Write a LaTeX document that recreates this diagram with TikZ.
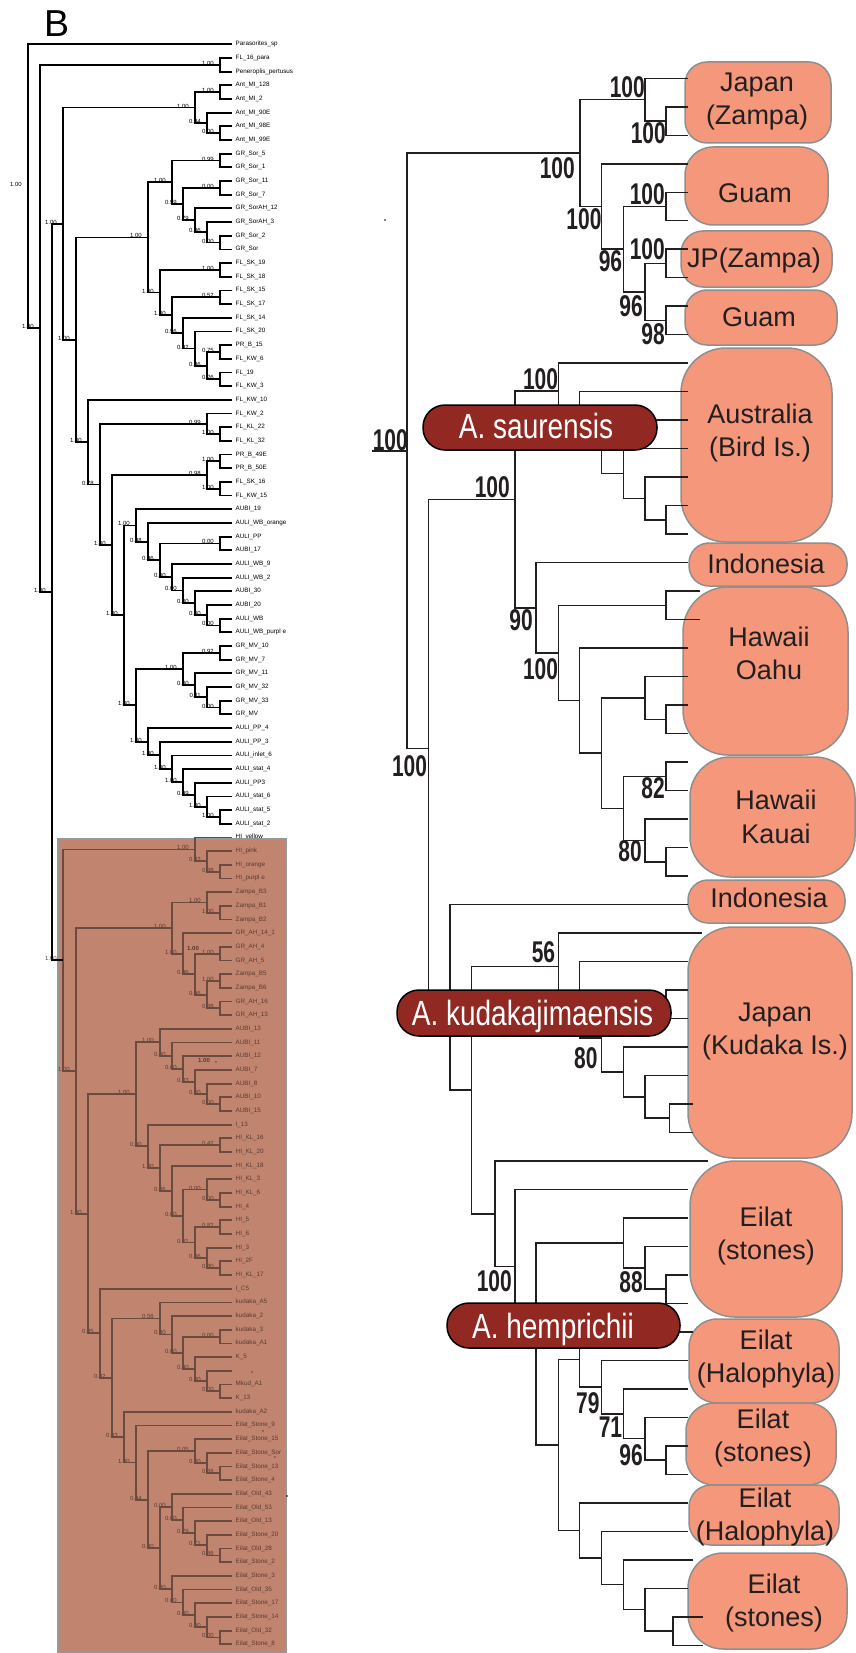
\documentclass[tikz,border=0pt]{standalone}
\usepackage{fontspec}
\setmainfont{Liberation Sans}
\usepackage{graphicx}
\usetikzlibrary{calc}

\definecolor{treeline}{HTML}{231F20}
\definecolor{boxfill}{HTML}{C1846F}
\definecolor{boxedge}{HTML}{979797}
\definecolor{boxline}{HTML}{6B4A3F}
\definecolor{boxtext}{HTML}{5A3B32}
\definecolor{regionfill}{HTML}{F4977A}
\definecolor{regionedge}{HTML}{8F8F8F}
\definecolor{speciesfill}{HTML}{922822}

\tikzset{
  lbranch/.style={line width=1.8pt, draw=black},
  lsup/.style={anchor=base east, inner sep=0pt, xshift=-6pt, yshift=-0.5pt, font=\fontsize{6}{7}\selectfont},
  lleaf/.style={anchor=base west, inner sep=0pt, xshift=3.5pt, yshift=-1.5pt, font=\fontsize{6.3}{7}\selectfont},
  rbranch/.style={line width=1.5pt, draw=treeline},
  rsup/.style={inner sep=0pt, text=treeline, font=\fontsize{30}{30}\selectfont\bfseries},
  region/.style={draw=regionedge, line width=1.5pt, fill=regionfill},
  regtext/.style={anchor=base, inner sep=0pt, text=treeline, font=\fontsize{27}{33}\selectfont},
  species/.style={draw=black, line width=1.5pt, fill=speciesfill, rounded corners=22pt},
  spectext/.style={anchor=base, inner sep=0pt, text=white, font=\fontsize{35}{35}\selectfont},
}

% clade: name, x, first child, last child, support
\newcommand\lclade[5]{%
  \path let \p1=($(#3)!0.5!(#4)$) in (#2pt,\y1) coordinate (#1);
  \draw[lbranch] (#3) -| (#1) |- (#4);
  \node[lsup] (#1-s) at (#1) {#5};
}
\newcommand\rclade[4]{%
  \path let \p1=($(#3)!0.5!(#4)$) in (#2pt,\y1) coordinate (#1);
  \draw[rbranch] (#3) -| (#1) |- (#4);
}
\newcommand\rlabel[4]{%
  \node[rsup, anchor=#2] (#1-s) at ($(#1)+(#3)$) {\scalebox{0.7}[1]{#4}};
}

\begin{document}
\begin{tikzpicture}[x=1pt, y=-1pt]
\useasboundingbox (0,0) rectangle (855,1653);

\node[anchor=base west, inner sep=0pt, font=\fontsize{37.5}{37.5}\selectfont] (panel) at (44,37) {B};

% left tree, leaves
\foreach \t [count=\i] in {Parasorites\_sp, FL\_16\_para, Peneroplis\_pertusus, Ant\_MI\_128, Ant\_MI\_2,
  Ant\_MI\_90E, Ant\_MI\_98E, Ant\_MI\_99E, GR\_Sor\_5, GR\_Sor\_1, GR\_Sor\_11, GR\_Sor\_7, GR\_SorAH\_12,
  GR\_SorAH\_3, GR\_Sor\_2, GR\_Sor, FL\_SK\_19, FL\_SK\_18, FL\_SK\_15, FL\_SK\_17, FL\_SK\_14, FL\_SK\_20,
  PR\_B\_15, FL\_KW\_6, FL\_19, FL\_KW\_3, FL\_KW\_10, FL\_KW\_2, FL\_KL\_22, FL\_KL\_32, PR\_B\_49E, PR\_B\_50E,
  FL\_SK\_16, FL\_KW\_15, AUBI\_19, AULI\_WB\_orange, AULI\_PP, AUBI\_17, AULI\_WB\_9, AULI\_WB\_2, AUBI\_30,
  AUBI\_20, AULI\_WB, AULI\_WB\_purpl e, GR\_MV\_10, GR\_MV\_7, GR\_MV\_11, GR\_MV\_32, GR\_MV\_33, GR\_MV,
  AULI\_PP\_4, AULI\_PP\_3, AULI\_inlet\_6, AULI\_stat\_4, AULI\_PP3, AULI\_stat\_6, AULI\_stat\_5, AULI\_stat\_2,
  HI\_yellow}
{
  \coordinate (l\i) at (232,{44.3+(\i-1)*13.675});
  \node[lleaf] (l\i-t) at (l\i) {\t};
}

\lclade{fp}{220}{l2}{l3}{1.00}
\lclade{ant1}{220}{l4}{l5}{1.00}
\lclade{ant3}{220}{l7}{l8}{0.00}
\lclade{ant2}{207}{l6}{ant3}{0.94}
\lclade{ant}{195}{ant1}{ant2}{1.00}
\lclade{sor1}{220}{l9}{l10}{0.99}
\lclade{sor3}{220}{l11}{l12}{0.00}
\lclade{sor6}{220}{l15}{l16}{0.00}
\lclade{sor5}{207}{l14}{sor6}{0.86}
\lclade{sor4}{195}{l13}{sor5}{0.79}
\lclade{sor2}{183}{sor3}{sor4}{0.99}
\lclade{sor}{172}{sor1}{sor2}{1.00}
\lclade{sk1}{220}{l17}{l18}{1.00}
\lclade{sk3}{220}{l19}{l20}{0.52}
\lclade{sk7}{220}{l23}{l24}{0.75}
\lclade{sk8}{220}{l25}{l26}{0.26}
\lclade{sk6}{207}{sk7}{sk8}{0.96}
\lclade{sk5}{195}{l22}{sk6}{0.92}
\lclade{sk4}{183}{l21}{sk5}{0.96}
\lclade{sk2}{172}{sk3}{sk4}{1.00}
\lclade{sk}{160}{sk1}{sk2}{1.00}
\lclade{fl}{148}{sor}{sk}{1.00}
\lclade{kl}{220}{l29}{l30}{1.00}
\lclade{kw}{207}{l28}{kl}{0.99}
\lclade{pr}{220}{l31}{l32}{1.00}
\lclade{sk16}{220}{l33}{l34}{1.00}
\lclade{prsk}{207}{pr}{sk16}{0.98}
\lclade{wb9}{220}{l43}{l44}{0.00}
\lclade{wb8}{207}{l42}{wb9}{0.00}
\lclade{wb7}{195}{l41}{wb8}{0.00}
\lclade{wb6}{183}{l40}{wb7}{0.00}
\lclade{wb5}{172}{l39}{wb6}{0.00}
\lclade{wb4}{220}{l37}{l38}{0.00}
\lclade{wb3}{160}{wb4}{wb5}{0.96}
\lclade{wb2}{148}{l36}{wb3}{0.98}
\lclade{wb}{136}{l35}{wb2}{1.00}
\lclade{mv5}{220}{l49}{l50}{0.00}
\lclade{mv4}{207}{l48}{mv5}{0.11}
\lclade{mv3}{195}{l47}{mv4}{0.00}
\lclade{mv2}{220}{l45}{l46}{0.92}
\lclade{mv1}{183}{mv2}{mv3}{1.00}
\lclade{pp7}{220}{l57}{l58}{1.00}
\lclade{pp6}{207}{l56}{pp7}{1.00}
\lclade{pp5}{195}{l55}{pp6}{0.99}
\lclade{pp4}{183}{l54}{pp5}{1.00}
\lclade{pp3}{172}{l53}{pp4}{1.00}
\lclade{pp2}{160}{l52}{pp3}{1.00}
\lclade{pp}{148}{l51}{pp2}{1.00}
\lclade{mvpp}{136}{mv1}{pp}{1.00}
\lclade{aus}{124}{wb}{mvpp}{1.00}
\lclade{kwau}{112}{prsk}{aus}{1.00}
\lclade{kwall}{100}{kw}{kwau}{0.78}
\lclade{kw10}{88}{l27}{kwall}{1.00}
\lclade{flkw}{76}{fl}{kw10}{1.00}
\lclade{sorall}{63}{ant}{flkw}{1.00}

% shaded clade
\draw[fill=boxfill, draw=boxedge, line width=2pt] (58,839) rectangle (286,1652);
\begin{scope}[lbranch/.append style={draw=boxline}, lsup/.append style={text=boxtext}, lleaf/.append style={text=boxtext}]
\foreach \t [count=\i from 60] in {HI\_pink, HI\_orange, HI\_purpl e, Zampa\_B3, Zampa\_B1, Zampa\_B2,
  GR\_AH\_14\_1, GR\_AH\_4, GR\_AH\_5, Zampa\_B5, Zampa\_B6, GR\_AH\_16, GR\_AH\_13, AUBI\_13, AUBI\_11,
  AUBI\_12, AUBI\_7, AUBI\_8, AUBI\_10, AUBI\_15, I\_13, HI\_KL\_16, HI\_KL\_20, HI\_KL\_18, HI\_KL\_3,
  HI\_KL\_6, HI\_4, HI\_5, HI\_6, HI\_3, HI\_2F, HI\_KL\_17, I\_C5, kudaka\_A5, kudaka\_2, kudaka\_3,
  kudaka\_A1, K\_5, {}, Mkud\_A1, K\_13, kudaka\_A2, Eilat\_Stone\_9, Eilat\_Stone\_15, Eilat\_Stone\_Sor,
  Eilat\_Stone\_13, Eilat\_Stone\_4, Eilat\_Old\_43, Eilat\_Old\_53, Eilat\_Old\_13, Eilat\_Stone\_20,
  Eilat\_Old\_28, Eilat\_Stone\_2, Eilat\_Stone\_3, Eilat\_Old\_35, Eilat\_Stone\_17, Eilat\_Stone\_14,
  Eilat\_Old\_32, Eilat\_Stone\_8}
{
  \coordinate (l\i) at (232,{44.3+(\i-1)*13.675});
  \node[lleaf] (l\i-t) at (l\i) {\t};
}
\lclade{hi3}{220}{l61}{l62}{0.88}
\lclade{hi2}{207}{l60}{hi3}{0.83}
\lclade{hi}{195}{l59}{hi2}{1.00}
\lclade{zb1}{220}{l64}{l65}{1.00}
\lclade{zb}{207}{l63}{zb1}{1.00}
\lclade{ah4}{220}{l67}{l68}{1.00}
\lclade{zb5}{220}{l69}{l70}{1.00}
\lclade{ah16}{220}{l71}{l72}{0.88}
\lclade{zah3}{207}{zb5}{ah16}{0.96}
\lclade{zah2}{195}{ah4}{zah3}{0.96}
\lclade{zah1}{183}{l66}{zah2}{1.00}
\lclade{zam}{172}{zb}{zah1}{1.00}
\lclade{au6}{220}{l78}{l79}{0.00}
\lclade{au5}{207}{l77}{au6}{0.00}
\lclade{au4}{195}{l76}{au5}{0.83}
\lclade{au3}{183}{l75}{au4}{0.00}
\lclade{au2}{172}{l74}{au3}{0.00}
\lclade{au1}{160}{l73}{au2}{1.00}
\lclade{kl16}{220}{l81}{l82}{0.42}
\lclade{kl6}{220}{l85}{l86}{0.00}
\lclade{kl3}{207}{l84}{kl6}{0.00}
\lclade{hi56}{220}{l87}{l88}{0.82}
\lclade{hi17}{220}{l90}{l91}{0.80}
\lclade{hi3b}{207}{l89}{hi17}{0.86}
\lclade{hi5}{195}{hi56}{hi3b}{0.01}
\lclade{kl5}{183}{kl3}{hi5}{0.00}
\lclade{kl4}{172}{l83}{kl5}{0.06}
\lclade{kl2}{160}{kl16}{kl4}{1.00}
\lclade{kl1}{148}{l80}{kl2}{0.90}
\lclade{aukl}{136}{au1}{kl1}{1.00}
\lclade{ku7}{220}{l99}{l100}{0.00}
\lclade{ku6}{207}{l98}{ku7}{0.00}
\lclade{ku5}{195}{l97}{ku6}{0.80}
\lclade{ku4}{220}{l95}{l96}{0.00}
\lclade{ku3}{183}{ku4}{ku5}{0.00}
\lclade{ku2}{172}{l94}{ku3}{0.00}
\lclade{ku}{160}{l93}{ku2}{0.56}
\lclade{es3}{220}{l105}{l106}{0.88}
\lclade{es2}{207}{l104}{es3}{0.00}
\lclade{es}{195}{l103}{es2}{0.05}
\lclade{eo5}{220}{l111}{l112}{0.86}
\lclade{eo4}{207}{l110}{eo5}{0.71}
\lclade{eo3}{195}{l109}{eo4}{0.79}
\lclade{eo2}{183}{l108}{eo3}{0.00}
\lclade{eo}{172}{l107}{eo2}{0.00}
\lclade{et5}{220}{l117}{l118}{0.00}
\lclade{et4}{207}{l116}{et5}{0.00}
\lclade{et3}{195}{l115}{et4}{0.00}
\lclade{et2}{183}{l114}{et3}{0.00}
\lclade{et}{172}{l113}{et2}{0.00}
\lclade{eil4}{160}{eo}{et}{0.00}
\lclade{eil3}{148}{es}{eil4}{0.84}
\lclade{eil2}{136}{l102}{eil3}{1.00}
\lclade{eil1}{124}{l101}{eil2}{0.83}
\lclade{kueil}{112}{ku}{eil1}{0.82}
\lclade{ic5}{100}{l92}{kueil}{0.85}
\lclade{hiic}{88}{aukl}{ic5}{1.00}
\lclade{zamhi}{76}{zam}{hiic}{1.00}
\lclade{brown}{63}{hi}{zamhi}{1.00}
\node[inner sep=0pt, text=boxtext, font=\fontsize{6}{7}\selectfont\bfseries] (extra1) at (193,948) {1.00};
\node[inner sep=0pt, text=boxtext, font=\fontsize{6}{7}\selectfont\bfseries] (extra2) at (204,1060) {1.00};
\foreach \sx/\sy [count=\k] in {216/1063, 252/1373, 263/1432, 275/1458}
  \node[inner sep=0pt, text=boxtext, font=\fontsize{6}{7}\selectfont] (star\k) at (\sx,\sy) {*};
\end{scope}
\lclade{core}{52}{sorall}{brown}{1.00}
\lclade{ingroup}{40}{fp}{core}{1.00}
\lclade{root}{28}{l1}{ingroup}{1.00}
\fill (287,1496) circle (0.9);

% right tree, geographic groups
\foreach \xa/\ya/\xb/\yb/\rr/\cx/\by/\ta/\tb [count=\k] in {
  685/62/831/143/22pt/757/91.4/Japan/(Zampa),
  685/147/828/225/28pt/755/202.4/Guam/{},
  681/231/832/287/22pt/754/268/JP(Zampa)/{},
  685/290/837/345/22pt/759/326.4/Guam/{},
  681/348/832/542/45pt/760/423/Australia/(Bird Is.),
  689/543/847/586/20pt/766/573.7/Indonesia/{},
  683/587/848/755/45pt/769/646.4/Hawaii/Oahu,
  690/757/855/877/40pt/776/809.7/Hawaii/Kauai,
  688/880/845/923/20pt/769/907/Indonesia/{},
  688/927/852/1158/45pt/775/1021.4/Japan/(Kudaka Is.),
  690/1161/842/1317/45pt/766/1226.4/Eilat/(stones),
  689/1319/839/1403/28pt/766/1349/Eilat/(Halophyla),
  686/1403/836/1485/28pt/763/1428/Eilat/(stones),
  689/1485/839/1545/22pt/765/1507/Eilat/(Halophyla),
  688/1553/847/1649/35pt/774/1593/Eilat/(stones)}
{
  \draw[region, rounded corners=\rr] (\xa,\ya) rectangle (\xb,\yb);
  \node[regtext] (reg\k a) at (\cx,\by) {\ta};
  \node[regtext] (reg\k b) at (\cx,{\by+33.3}) {\tb};
}

\foreach \xe [count=\j] in {688,688,688,688,688,688,688,688,688,688,
  688,688,688,688,688,688,688,688,700,700,
  688,688,688,688,688,688,688,688,688,688,
  702,688,688,688,688,688,693,693,708,688,
  688,688,688,688,693,688,688,688,688,688,
  688,688,693,688,703,703}
  \coordinate (r\j) at (\xe,{78.3+(\j-1)*28.49});

\rclade{D}{666}{r2}{r3}
\rclade{C}{645}{r1}{D}
\rclade{G}{666}{r5}{r6}
\rclade{I}{666}{r7}{r8}
\rclade{J}{666}{r9}{r10}
\rclade{H}{645}{I}{J}
\rclade{F}{623.3}{G}{H}
\rclade{E}{601.7}{r4}{F}
\rclade{A}{580}{C}{E}
\rclade{U}{666}{r16}{r17}
\rclade{T}{645}{r15}{U}
\rclade{S}{623.3}{r14}{T}
\rclade{Q}{601.7}{r13}{S}
\rclade{P}{579.3}{r12}{Q}
\rclade{M}{558.3}{r11}{P}
\rclade{W}{666}{r19}{r20}
\rclade{Z2}{666}{r23}{r24}
\rclade{Z}{645}{r22}{Z2}
\rclade{AB}{666}{r25}{r26}
\rclade{AD}{666}{r28}{r29}
\rclade{AC}{645}{r27}{AD}
\rclade{AA}{623.3}{AB}{AC}
\rclade{Y}{601.7}{Z}{AA}
\rclade{X}{579.3}{r21}{Y}
\rclade{V}{558.3}{W}{X}
\rclade{N}{536}{r18}{V}
\rclade{K}{515}{M}{N}
\rclade{TT}{669.3}{r37}{r38}
\rclade{SS}{645}{r36}{TT}
\rclade{RR}{623.3}{r35}{SS}
\rclade{QQ}{666}{r33}{r34}
\rclade{PP}{601.7}{QQ}{RR}
\rclade{OO}{579.3}{r32}{PP}
\rclade{MM}{558.3}{r31}{OO}
\rclade{ZZ}{666}{r43}{r44}
\rclade{YY}{645}{r42}{ZZ}
\rclade{WW}{623.3}{r41}{YY}
\rclade{AH}{666}{r49}{r50}
\rclade{AG}{645}{r48}{AH}
\rclade{AF}{623.3}{r47}{AG}
\rclade{AE}{601.7}{r46}{AF}
\rclade{AB2}{579.3}{r45}{AE}
\rclade{AL}{673}{r55}{r56}
\rclade{AK}{645}{r54}{AL}
\rclade{AJ}{623.3}{r53}{AK}
\rclade{AI}{601.7}{r52}{AJ}
\rclade{AC2}{579.3}{r51}{AI}
\rclade{XX}{558.3}{AB2}{AC2}
\rclade{VV}{536}{WW}{XX}
\rclade{UU}{515}{r40}{VV}
\rclade{NN}{495}{r39}{UU}
\rclade{LL}{471.7}{MM}{NN}
\rclade{L}{450}{r30}{LL}
\rclade{B}{428.3}{K}{L}
\rclade{R0}{407}{A}{B}
\draw[rbranch] (R0) -- ++(-35,0);
\fill (385,220) circle (0.9);

\rlabel{C}{south east}{0,-2}{100}
\rlabel{D}{north east}{0,1}{100}
\rlabel{A}{north east}{-5,4}{100}
\rlabel{E}{north east}{0,2}{100}
\rlabel{G}{south east}{-1,-1.5}{100}
\rlabel{F}{north east}{-1,1}{96}
\rlabel{I}{south east}{-1,-3.5}{100}
\rlabel{H}{north east}{-2,3}{96}
\rlabel{J}{north east}{-1,3}{98}
\rlabel{M}{south east}{0,-1}{100}
\rlabel{R0}{south east}{1,0}{100}
\rlabel{K}{south east}{-5,-1.5}{100}
\rlabel{N}{north east}{-3,2}{90}
\rlabel{V}{north east}{0,5}{100}
\rlabel{B}{north east}{-1,6.5}{100}
\rlabel{AB}{north east}{-1,1}{82}
\rlabel{AC}{north east}{-3,0}{80}
\rlabel{MM}{south east}{-3,-3}{56}
\rlabel{PP}{north east}{-4,9}{80}
\rlabel{UU}{north east}{-3,3.5}{100}
\rlabel{YY}{north east}{-2,4}{88}
\rlabel{AE}{north east}{-2,5}{79}
\rlabel{AF}{north east}{-1,3}{71}
\rlabel{AG}{north east}{-2,6}{96}

% species tags
\draw[species] (423,405) rectangle (657,450);
\node[spectext] (saur) at (536,438.3) {\scalebox{0.8}[1]{A. saurensis}};
\draw[species] (397,990) rectangle (671,1036);
\node[spectext] (kuda) at (532.5,1025) {\scalebox{0.8}[1]{A. kudakajimaensis}};
\draw[species] (447,1303) rectangle (680,1348);
\node[spectext] (hemp) at (553,1338.3) {\scalebox{0.8}[1]{A. hemprichii}};
\end{tikzpicture}
\end{document}
